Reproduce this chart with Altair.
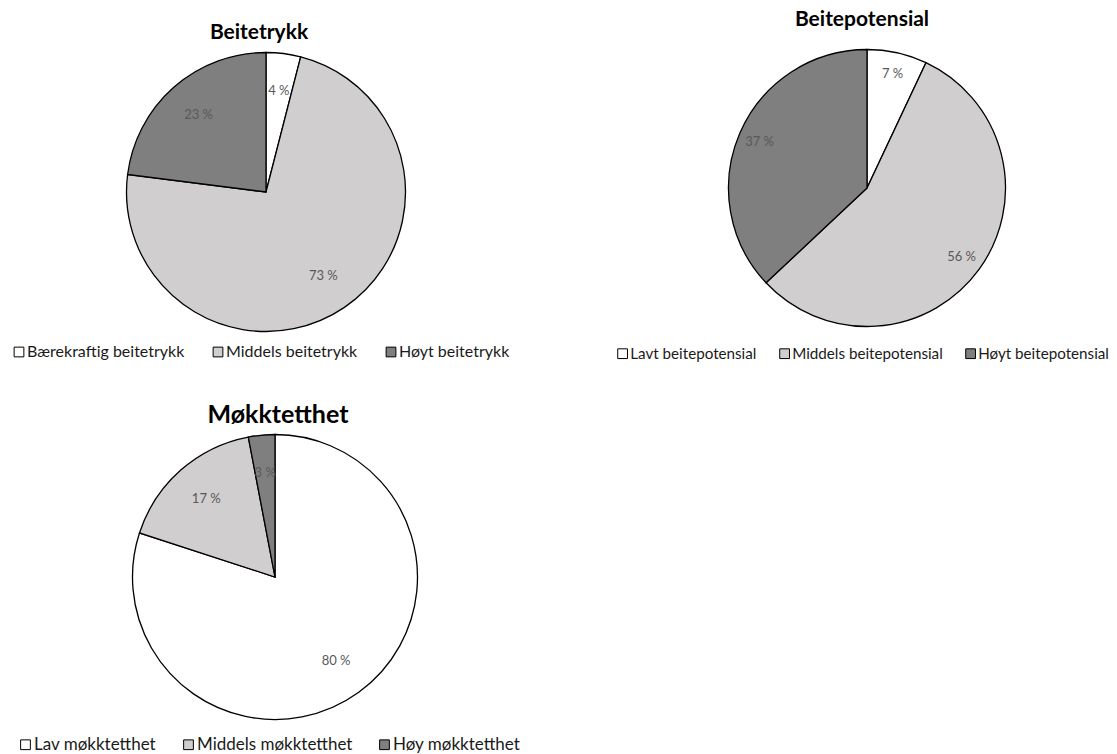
import altair as alt
import pandas as pd

# ---- data ----
titles = ["Beitetrykk", "Beitepotensial", "Møkktetthet"]

cats1 = ["Bærekraftig beitetrykk", "Middels beitetrykk", "Høyt beitetrykk"]
vals1 = [4, 73, 23]

cats2 = ["Lavt beitepotensial", "Middels beitepotensial", "Høyt beitepotensial"]
vals2 = [7, 56, 37]

cats3 = ["Lav møkktetthet", "Middels møkktetthet", "Høy møkktetthet"]
vals3 = [80, 17, 3]

palette = ["#FFFFFF", "#D0CECE", "#7F7F7F"]

FONT = "Lato"


def make_pie(title, cats, vals, cx, cy, r, label_r, title_x, title_y, title_size,
             leg_x, leg_y, leg_size, col_pad):
    df = pd.DataFrame({"cat": cats, "val": vals, "idx": list(range(len(cats)))})
    df["lbl"] = [f"{v}\u202f%" for v in vals]
    base = alt.Chart(df).encode(
        theta=alt.Theta("val:Q", stack=True),
        order=alt.Order("idx:Q", sort="ascending"),
        x=alt.value(cx),
        y=alt.value(cy),
    )
    arc = base.mark_arc(outerRadius=r, stroke="black", strokeWidth=1.3).encode(
        color=alt.Color(
            "cat:N",
            sort=cats,
            scale=alt.Scale(domain=cats, range=palette),
            legend=alt.Legend(
                orient="none", legendX=leg_x, legendY=leg_y, direction="horizontal",
                title=None, symbolType="square", symbolSize=95,
                symbolStrokeColor="black", symbolStrokeWidth=1,
                labelFont=FONT, labelFontSize=leg_size, labelColor="#1a1a1a",
                columnPadding=col_pad, labelOffset=0, padding=0, offset=0,
                labelLimit=0,
            ),
        )
    )
    text = base.mark_text(radius=label_r, font=FONT, fontSize=13, color="#595959").encode(
        text="lbl:N", detail="cat:N"
    )
    ttl = alt.Chart(pd.DataFrame({"t": [title]})).mark_text(
        font=FONT, fontWeight="bold", fontSize=title_size, color="black", baseline="middle"
    ).encode(text="t:N", x=alt.value(title_x), y=alt.value(title_y))
    return alt.layer(arc, text, ttl)


p1 = make_pie(titles[0], cats1, vals1, 266, 192, 139.5, 102, 259, 33, 21, 11, 344, 16, 25)
p2 = make_pie(titles[1], cats2, vals2, 867, 188, 138.5, 117, 862, 20, 21, 615, 346, 15.2, 20)
p3 = make_pie(titles[2], cats3, vals3, 275, 577, 142.5, 104, 278, 415, 25, 17, 736, 17, 23)

chart = alt.layer(p1, p2, p3).resolve_scale(
    color="independent", theta="independent"
).properties(
    width=1117, height=754, autosize=alt.AutoSizeParams(type="none"), padding=0,
    background="white"
).configure_view(stroke=None)

chart.save("out.html", embed_options={"renderer": "svg", "actions": False})
